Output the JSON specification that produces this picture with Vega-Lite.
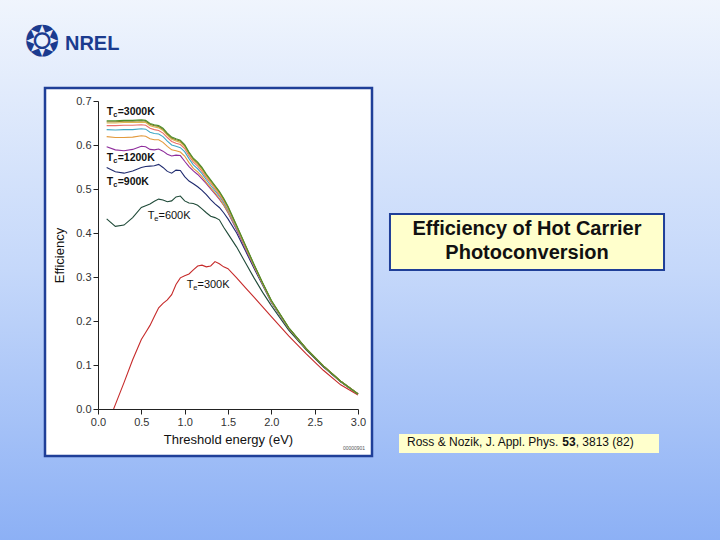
{
  "$schema": "https://vega.github.io/schema/vega-lite/v6.json",
  "width": 260,
  "height": 308,
  "autosize": {"type": "none"},
  "padding": {"left": 98, "top": 101, "right": 362, "bottom": 131},
  "background": "#c4d7fa",
  "config": {
    "font": "Liberation Sans",
    "view": {"stroke": null},
    "axis": {
      "domainColor": "#222",
      "tickColor": "#222",
      "labelColor": "#333",
      "labelFontSize": 11,
      "titleFontSize": 13,
      "titleFontWeight": "normal",
      "titleColor": "#111",
      "tickSize": 5,
      "labelPadding": 2,
      "grid": false,
      "labelFlush": false
    }
  },
  "data": {"values": [{}]},
  "layer": [
    {
      "mark": {
        "type": "rect",
        "fill": {
          "gradient": "linear", "x1": 0, "y1": 0, "x2": 0, "y2": 1,
          "stops": [
            {"offset": 0, "color": "#f0f5fd"},
            {"offset": 0.5, "color": "#c5d8fa"},
            {"offset": 1, "color": "#8cb0f5"}
          ]
        }
      },
      "encoding": {
        "x": {"datum": -1.16, "type": "quantitative", "scale": {"domain": [0, 3]}},
        "x2": {"datum": 7.2},
        "y": {"datum": 0.934, "type": "quantitative", "scale": {"domain": [0, 0.7]}},
        "y2": {"datum": -0.302}
      }
    },
    {
      "mark": {"type": "rect", "fill": "white", "stroke": "#1f3f98", "strokeWidth": 2.5},
      "encoding": {
        "x": {"datum": -0.6115, "type": "quantitative", "scale": {"domain": [0, 3]}},
        "x2": {"datum": 3.1615},
        "y": {"datum": 0.7295, "type": "quantitative", "scale": {"domain": [0, 0.7]}},
        "y2": {"datum": -0.1068}
      }
    },
    {
      "mark": {"type": "rect", "fill": "#ffffcc", "stroke": "#1f3f98", "strokeWidth": 2},
      "encoding": {
        "x": {"datum": 3.369, "type": "quantitative", "scale": {"domain": [0, 3]}},
        "x2": {"datum": 6.531},
        "y": {"datum": 0.4432, "type": "quantitative", "scale": {"domain": [0, 0.7]}},
        "y2": {"datum": 0.3159}
      }
    },
    {
      "mark": {"type": "rect", "fill": "#ffffcc"},
      "encoding": {
        "x": {"datum": 3.473, "type": "quantitative", "scale": {"domain": [0, 3]}},
        "x2": {"datum": 6.473},
        "y": {"datum": -0.0568, "type": "quantitative", "scale": {"domain": [0, 0.7]}},
        "y2": {"datum": -0.1}
      }
    },
    {
      "mark": {"type": "text", "text": "❂", "font": "DejaVu Sans", "fontSize": 42, "color": "#1b3b8f", "align": "center", "baseline": "middle"},
      "encoding": {
        "x": {"datum": -0.646, "type": "quantitative", "scale": {"domain": [0, 3]}},
        "y": {"datum": 0.832, "type": "quantitative", "scale": {"domain": [0, 0.7]}}
      }
    },
    {
      "mark": {"type": "text", "text": "NREL", "fontSize": 20, "fontWeight": "bold", "color": "#1b3b8f", "align": "left", "baseline": "middle"},
      "encoding": {
        "x": {"datum": -0.381, "type": "quantitative", "scale": {"domain": [0, 3]}},
        "y": {"datum": 0.8295, "type": "quantitative", "scale": {"domain": [0, 0.7]}}
      }
    },
    {
      "mark": {"type": "text", "text": "Efficiency of Hot Carrier", "fontSize": 20, "fontWeight": "bold", "color": "#111", "align": "center", "baseline": "middle"},
      "encoding": {
        "x": {"datum": 4.95, "type": "quantitative", "scale": {"domain": [0, 3]}},
        "y": {"datum": 0.409, "type": "quantitative", "scale": {"domain": [0, 0.7]}}
      }
    },
    {
      "mark": {"type": "text", "text": "Photoconversion", "fontSize": 20, "fontWeight": "bold", "color": "#111", "align": "center", "baseline": "middle"},
      "encoding": {
        "x": {"datum": 4.95, "type": "quantitative", "scale": {"domain": [0, 3]}},
        "y": {"datum": 0.3545, "type": "quantitative", "scale": {"domain": [0, 0.7]}}
      }
    },
    {
      "encoding": {
        "x": {"datum": 3.565, "type": "quantitative", "scale": {"domain": [0, 3]}},
        "y": {"datum": -0.075, "type": "quantitative", "scale": {"domain": [0, 0.7]}}
      },
      "layer": [
        {"mark": {"type": "text", "text": "Ross & Nozik, J. Appl. Phys.", "fontSize": 12, "color": "#111", "align": "left", "baseline": "middle"}},
        {"mark": {"type": "text", "text": "53", "fontSize": 12, "fontWeight": "bold", "color": "#111", "align": "left", "baseline": "middle", "dx": 155.4}},
        {"mark": {"type": "text", "text": ", 3813 (82)", "fontSize": 12, "color": "#111", "align": "left", "baseline": "middle", "dx": 168.7}}
      ]
    },
    {
      "mark": {"type": "text", "text": "00000901", "fontSize": 5, "color": "#555", "align": "center", "baseline": "middle"},
      "encoding": {
        "x": {"datum": 2.954, "type": "quantitative", "scale": {"domain": [0, 3]}},
        "y": {"datum": -0.0886, "type": "quantitative", "scale": {"domain": [0, 0.7]}}
      }
    },
    {
      "data": {
        "values": [
          {"T":"300K","E":0.18,"eff":0.0},{"T":"300K","E":0.2,"eff":0.01},{"T":"300K","E":0.3,"eff":0.06},{"T":"300K","E":0.4,"eff":0.112},{"T":"300K","E":0.5,"eff":0.158},{"T":"300K","E":0.55,"eff":0.174},{"T":"300K","E":0.6,"eff":0.19},{"T":"300K","E":0.65,"eff":0.21},{"T":"300K","E":0.7,"eff":0.23},{"T":"300K","E":0.75,"eff":0.24},{"T":"300K","E":0.8,"eff":0.248},{"T":"300K","E":0.85,"eff":0.26},{"T":"300K","E":0.9,"eff":0.283},{"T":"300K","E":0.95,"eff":0.298},{"T":"300K","E":1.0,"eff":0.303},{"T":"300K","E":1.05,"eff":0.307},{"T":"300K","E":1.1,"eff":0.316},{"T":"300K","E":1.15,"eff":0.325},{"T":"300K","E":1.2,"eff":0.327},{"T":"300K","E":1.25,"eff":0.323},{"T":"300K","E":1.3,"eff":0.325},{"T":"300K","E":1.35,"eff":0.335},{"T":"300K","E":1.4,"eff":0.33},{"T":"300K","E":1.45,"eff":0.323},{"T":"300K","E":1.5,"eff":0.319},{"T":"300K","E":1.6,"eff":0.298},{"T":"300K","E":1.7,"eff":0.276},{"T":"300K","E":1.8,"eff":0.254},{"T":"300K","E":1.9,"eff":0.232},{"T":"300K","E":2.0,"eff":0.21},{"T":"300K","E":2.2,"eff":0.166},{"T":"300K","E":2.4,"eff":0.126},{"T":"300K","E":2.6,"eff":0.088},{"T":"300K","E":2.8,"eff":0.055},{"T":"300K","E":3.0,"eff":0.032},
          {"T":"600K","E":0.1,"eff":0.432},{"T":"600K","E":0.2,"eff":0.415},{"T":"600K","E":0.3,"eff":0.418},{"T":"600K","E":0.4,"eff":0.435},{"T":"600K","E":0.5,"eff":0.458},{"T":"600K","E":0.55,"eff":0.462},{"T":"600K","E":0.6,"eff":0.466},{"T":"600K","E":0.65,"eff":0.472},{"T":"600K","E":0.7,"eff":0.477},{"T":"600K","E":0.75,"eff":0.475},{"T":"600K","E":0.8,"eff":0.471},{"T":"600K","E":0.85,"eff":0.473},{"T":"600K","E":0.9,"eff":0.482},{"T":"600K","E":0.95,"eff":0.484},{"T":"600K","E":1.0,"eff":0.473},{"T":"600K","E":1.05,"eff":0.468},{"T":"600K","E":1.1,"eff":0.467},{"T":"600K","E":1.15,"eff":0.463},{"T":"600K","E":1.2,"eff":0.455},{"T":"600K","E":1.25,"eff":0.446},{"T":"600K","E":1.3,"eff":0.438},{"T":"600K","E":1.35,"eff":0.435},{"T":"600K","E":1.4,"eff":0.43},{"T":"600K","E":1.45,"eff":0.413},{"T":"600K","E":1.5,"eff":0.398},{"T":"600K","E":1.6,"eff":0.368},{"T":"600K","E":1.7,"eff":0.333},{"T":"600K","E":1.8,"eff":0.298},{"T":"600K","E":1.9,"eff":0.265},{"T":"600K","E":2.0,"eff":0.235},{"T":"600K","E":2.2,"eff":0.179},{"T":"600K","E":2.4,"eff":0.135},{"T":"600K","E":2.6,"eff":0.096},{"T":"600K","E":2.8,"eff":0.062},{"T":"600K","E":3.0,"eff":0.034},
          {"T":"900K","E":0.1,"eff":0.549},{"T":"900K","E":0.2,"eff":0.539},{"T":"900K","E":0.3,"eff":0.536},{"T":"900K","E":0.4,"eff":0.541},{"T":"900K","E":0.5,"eff":0.549},{"T":"900K","E":0.55,"eff":0.551},{"T":"900K","E":0.6,"eff":0.552},{"T":"900K","E":0.65,"eff":0.553},{"T":"900K","E":0.7,"eff":0.556},{"T":"900K","E":0.75,"eff":0.549},{"T":"900K","E":0.8,"eff":0.54},{"T":"900K","E":0.85,"eff":0.536},{"T":"900K","E":0.9,"eff":0.543},{"T":"900K","E":0.95,"eff":0.542},{"T":"900K","E":1.0,"eff":0.528},{"T":"900K","E":1.05,"eff":0.518},{"T":"900K","E":1.1,"eff":0.512},{"T":"900K","E":1.15,"eff":0.505},{"T":"900K","E":1.2,"eff":0.497},{"T":"900K","E":1.25,"eff":0.487},{"T":"900K","E":1.3,"eff":0.476},{"T":"900K","E":1.35,"eff":0.466},{"T":"900K","E":1.4,"eff":0.458},{"T":"900K","E":1.45,"eff":0.446},{"T":"900K","E":1.5,"eff":0.432},{"T":"900K","E":1.6,"eff":0.4},{"T":"900K","E":1.7,"eff":0.36},{"T":"900K","E":1.8,"eff":0.32},{"T":"900K","E":1.9,"eff":0.281},{"T":"900K","E":2.0,"eff":0.242},{"T":"900K","E":2.2,"eff":0.183},{"T":"900K","E":2.4,"eff":0.137},{"T":"900K","E":2.6,"eff":0.097},{"T":"900K","E":2.8,"eff":0.062},{"T":"900K","E":3.0,"eff":0.034},
          {"T":"1200K","E":0.1,"eff":0.596},{"T":"1200K","E":0.2,"eff":0.589},{"T":"1200K","E":0.3,"eff":0.587},{"T":"1200K","E":0.4,"eff":0.59},{"T":"1200K","E":0.5,"eff":0.597},{"T":"1200K","E":0.55,"eff":0.596},{"T":"1200K","E":0.6,"eff":0.59},{"T":"1200K","E":0.65,"eff":0.589},{"T":"1200K","E":0.7,"eff":0.591},{"T":"1200K","E":0.75,"eff":0.586},{"T":"1200K","E":0.8,"eff":0.579},{"T":"1200K","E":0.85,"eff":0.575},{"T":"1200K","E":0.9,"eff":0.577},{"T":"1200K","E":0.95,"eff":0.576},{"T":"1200K","E":1.0,"eff":0.563},{"T":"1200K","E":1.05,"eff":0.551},{"T":"1200K","E":1.1,"eff":0.541},{"T":"1200K","E":1.15,"eff":0.533},{"T":"1200K","E":1.2,"eff":0.523},{"T":"1200K","E":1.25,"eff":0.512},{"T":"1200K","E":1.3,"eff":0.5},{"T":"1200K","E":1.35,"eff":0.489},{"T":"1200K","E":1.4,"eff":0.477},{"T":"1200K","E":1.45,"eff":0.463},{"T":"1200K","E":1.5,"eff":0.446},{"T":"1200K","E":1.6,"eff":0.407},{"T":"1200K","E":1.7,"eff":0.365},{"T":"1200K","E":1.8,"eff":0.323},{"T":"1200K","E":1.9,"eff":0.283},{"T":"1200K","E":2.0,"eff":0.243},{"T":"1200K","E":2.2,"eff":0.183},{"T":"1200K","E":2.4,"eff":0.137},{"T":"1200K","E":2.6,"eff":0.097},{"T":"1200K","E":2.8,"eff":0.063},{"T":"1200K","E":3.0,"eff":0.034},
          {"T":"1500K","E":0.1,"eff":0.619},{"T":"1500K","E":0.2,"eff":0.617},{"T":"1500K","E":0.3,"eff":0.617},{"T":"1500K","E":0.4,"eff":0.618},{"T":"1500K","E":0.5,"eff":0.621},{"T":"1500K","E":0.55,"eff":0.62},{"T":"1500K","E":0.6,"eff":0.614},{"T":"1500K","E":0.65,"eff":0.612},{"T":"1500K","E":0.7,"eff":0.612},{"T":"1500K","E":0.75,"eff":0.606},{"T":"1500K","E":0.8,"eff":0.597},{"T":"1500K","E":0.85,"eff":0.589},{"T":"1500K","E":0.9,"eff":0.587},{"T":"1500K","E":0.95,"eff":0.584},{"T":"1500K","E":1.0,"eff":0.575},{"T":"1500K","E":1.05,"eff":0.56},{"T":"1500K","E":1.1,"eff":0.547},{"T":"1500K","E":1.15,"eff":0.539},{"T":"1500K","E":1.2,"eff":0.528},{"T":"1500K","E":1.25,"eff":0.515},{"T":"1500K","E":1.3,"eff":0.503},{"T":"1500K","E":1.35,"eff":0.491},{"T":"1500K","E":1.4,"eff":0.479},{"T":"1500K","E":1.45,"eff":0.464},{"T":"1500K","E":1.5,"eff":0.448},{"T":"1500K","E":1.6,"eff":0.41},{"T":"1500K","E":1.7,"eff":0.367},{"T":"1500K","E":1.8,"eff":0.325},{"T":"1500K","E":1.9,"eff":0.284},{"T":"1500K","E":2.0,"eff":0.244},{"T":"1500K","E":2.2,"eff":0.184},{"T":"1500K","E":2.4,"eff":0.137},{"T":"1500K","E":2.6,"eff":0.098},{"T":"1500K","E":2.8,"eff":0.063},{"T":"1500K","E":3.0,"eff":0.034},
          {"T":"1800K","E":0.1,"eff":0.635},{"T":"1800K","E":0.2,"eff":0.634},{"T":"1800K","E":0.3,"eff":0.635},{"T":"1800K","E":0.4,"eff":0.635},{"T":"1800K","E":0.5,"eff":0.637},{"T":"1800K","E":0.55,"eff":0.636},{"T":"1800K","E":0.6,"eff":0.629},{"T":"1800K","E":0.65,"eff":0.626},{"T":"1800K","E":0.7,"eff":0.625},{"T":"1800K","E":0.75,"eff":0.619},{"T":"1800K","E":0.8,"eff":0.609},{"T":"1800K","E":0.85,"eff":0.6},{"T":"1800K","E":0.9,"eff":0.597},{"T":"1800K","E":0.95,"eff":0.594},{"T":"1800K","E":1.0,"eff":0.585},{"T":"1800K","E":1.05,"eff":0.569},{"T":"1800K","E":1.1,"eff":0.555},{"T":"1800K","E":1.15,"eff":0.546},{"T":"1800K","E":1.2,"eff":0.535},{"T":"1800K","E":1.25,"eff":0.521},{"T":"1800K","E":1.3,"eff":0.508},{"T":"1800K","E":1.35,"eff":0.496},{"T":"1800K","E":1.4,"eff":0.484},{"T":"1800K","E":1.45,"eff":0.469},{"T":"1800K","E":1.5,"eff":0.452},{"T":"1800K","E":1.6,"eff":0.412},{"T":"1800K","E":1.7,"eff":0.369},{"T":"1800K","E":1.8,"eff":0.326},{"T":"1800K","E":1.9,"eff":0.284},{"T":"1800K","E":2.0,"eff":0.244},{"T":"1800K","E":2.2,"eff":0.184},{"T":"1800K","E":2.4,"eff":0.137},{"T":"1800K","E":2.6,"eff":0.098},{"T":"1800K","E":2.8,"eff":0.063},{"T":"1800K","E":3.0,"eff":0.034},
          {"T":"2100K","E":0.1,"eff":0.644},{"T":"2100K","E":0.2,"eff":0.644},{"T":"2100K","E":0.3,"eff":0.645},{"T":"2100K","E":0.4,"eff":0.645},{"T":"2100K","E":0.5,"eff":0.646},{"T":"2100K","E":0.55,"eff":0.645},{"T":"2100K","E":0.6,"eff":0.638},{"T":"2100K","E":0.65,"eff":0.635},{"T":"2100K","E":0.7,"eff":0.633},{"T":"2100K","E":0.75,"eff":0.627},{"T":"2100K","E":0.8,"eff":0.617},{"T":"2100K","E":0.85,"eff":0.608},{"T":"2100K","E":0.9,"eff":0.604},{"T":"2100K","E":0.95,"eff":0.601},{"T":"2100K","E":1.0,"eff":0.592},{"T":"2100K","E":1.05,"eff":0.575},{"T":"2100K","E":1.1,"eff":0.561},{"T":"2100K","E":1.15,"eff":0.552},{"T":"2100K","E":1.2,"eff":0.54},{"T":"2100K","E":1.25,"eff":0.526},{"T":"2100K","E":1.3,"eff":0.513},{"T":"2100K","E":1.35,"eff":0.5},{"T":"2100K","E":1.4,"eff":0.487},{"T":"2100K","E":1.45,"eff":0.472},{"T":"2100K","E":1.5,"eff":0.455},{"T":"2100K","E":1.6,"eff":0.414},{"T":"2100K","E":1.7,"eff":0.37},{"T":"2100K","E":1.8,"eff":0.327},{"T":"2100K","E":1.9,"eff":0.285},{"T":"2100K","E":2.0,"eff":0.245},{"T":"2100K","E":2.2,"eff":0.184},{"T":"2100K","E":2.4,"eff":0.137},{"T":"2100K","E":2.6,"eff":0.098},{"T":"2100K","E":2.8,"eff":0.063},{"T":"2100K","E":3.0,"eff":0.034},
          {"T":"2400K","E":0.1,"eff":0.65},{"T":"2400K","E":0.2,"eff":0.65},{"T":"2400K","E":0.3,"eff":0.651},{"T":"2400K","E":0.4,"eff":0.651},{"T":"2400K","E":0.5,"eff":0.652},{"T":"2400K","E":0.55,"eff":0.651},{"T":"2400K","E":0.6,"eff":0.644},{"T":"2400K","E":0.65,"eff":0.641},{"T":"2400K","E":0.7,"eff":0.639},{"T":"2400K","E":0.75,"eff":0.633},{"T":"2400K","E":0.8,"eff":0.622},{"T":"2400K","E":0.85,"eff":0.613},{"T":"2400K","E":0.9,"eff":0.609},{"T":"2400K","E":0.95,"eff":0.606},{"T":"2400K","E":1.0,"eff":0.596},{"T":"2400K","E":1.05,"eff":0.579},{"T":"2400K","E":1.1,"eff":0.565},{"T":"2400K","E":1.15,"eff":0.556},{"T":"2400K","E":1.2,"eff":0.544},{"T":"2400K","E":1.25,"eff":0.529},{"T":"2400K","E":1.3,"eff":0.516},{"T":"2400K","E":1.35,"eff":0.503},{"T":"2400K","E":1.4,"eff":0.49},{"T":"2400K","E":1.45,"eff":0.475},{"T":"2400K","E":1.5,"eff":0.457},{"T":"2400K","E":1.6,"eff":0.415},{"T":"2400K","E":1.7,"eff":0.371},{"T":"2400K","E":1.8,"eff":0.327},{"T":"2400K","E":1.9,"eff":0.285},{"T":"2400K","E":2.0,"eff":0.245},{"T":"2400K","E":2.2,"eff":0.184},{"T":"2400K","E":2.4,"eff":0.138},{"T":"2400K","E":2.6,"eff":0.098},{"T":"2400K","E":2.8,"eff":0.063},{"T":"2400K","E":3.0,"eff":0.034},
          {"T":"2700K","E":0.1,"eff":0.653},{"T":"2700K","E":0.2,"eff":0.653},{"T":"2700K","E":0.3,"eff":0.654},{"T":"2700K","E":0.4,"eff":0.654},{"T":"2700K","E":0.5,"eff":0.655},{"T":"2700K","E":0.55,"eff":0.654},{"T":"2700K","E":0.6,"eff":0.647},{"T":"2700K","E":0.65,"eff":0.644},{"T":"2700K","E":0.7,"eff":0.642},{"T":"2700K","E":0.75,"eff":0.636},{"T":"2700K","E":0.8,"eff":0.625},{"T":"2700K","E":0.85,"eff":0.616},{"T":"2700K","E":0.9,"eff":0.612},{"T":"2700K","E":0.95,"eff":0.609},{"T":"2700K","E":1.0,"eff":0.599},{"T":"2700K","E":1.05,"eff":0.582},{"T":"2700K","E":1.1,"eff":0.568},{"T":"2700K","E":1.15,"eff":0.559},{"T":"2700K","E":1.2,"eff":0.547},{"T":"2700K","E":1.25,"eff":0.532},{"T":"2700K","E":1.3,"eff":0.519},{"T":"2700K","E":1.35,"eff":0.506},{"T":"2700K","E":1.4,"eff":0.493},{"T":"2700K","E":1.45,"eff":0.477},{"T":"2700K","E":1.5,"eff":0.459},{"T":"2700K","E":1.6,"eff":0.416},{"T":"2700K","E":1.7,"eff":0.372},{"T":"2700K","E":1.8,"eff":0.328},{"T":"2700K","E":1.9,"eff":0.286},{"T":"2700K","E":2.0,"eff":0.246},{"T":"2700K","E":2.2,"eff":0.185},{"T":"2700K","E":2.4,"eff":0.138},{"T":"2700K","E":2.6,"eff":0.098},{"T":"2700K","E":2.8,"eff":0.063},{"T":"2700K","E":3.0,"eff":0.034},
          {"T":"3000K","E":0.1,"eff":0.655},{"T":"3000K","E":0.2,"eff":0.655},{"T":"3000K","E":0.3,"eff":0.656},{"T":"3000K","E":0.4,"eff":0.656},{"T":"3000K","E":0.5,"eff":0.657},{"T":"3000K","E":0.55,"eff":0.656},{"T":"3000K","E":0.6,"eff":0.649},{"T":"3000K","E":0.65,"eff":0.646},{"T":"3000K","E":0.7,"eff":0.644},{"T":"3000K","E":0.75,"eff":0.638},{"T":"3000K","E":0.8,"eff":0.627},{"T":"3000K","E":0.85,"eff":0.618},{"T":"3000K","E":0.9,"eff":0.614},{"T":"3000K","E":0.95,"eff":0.611},{"T":"3000K","E":1.0,"eff":0.601},{"T":"3000K","E":1.05,"eff":0.584},{"T":"3000K","E":1.1,"eff":0.57},{"T":"3000K","E":1.15,"eff":0.561},{"T":"3000K","E":1.2,"eff":0.549},{"T":"3000K","E":1.25,"eff":0.534},{"T":"3000K","E":1.3,"eff":0.521},{"T":"3000K","E":1.35,"eff":0.508},{"T":"3000K","E":1.4,"eff":0.495},{"T":"3000K","E":1.45,"eff":0.479},{"T":"3000K","E":1.5,"eff":0.461},{"T":"3000K","E":1.6,"eff":0.417},{"T":"3000K","E":1.7,"eff":0.373},{"T":"3000K","E":1.8,"eff":0.329},{"T":"3000K","E":1.9,"eff":0.287},{"T":"3000K","E":2.0,"eff":0.247},{"T":"3000K","E":2.2,"eff":0.185},{"T":"3000K","E":2.4,"eff":0.138},{"T":"3000K","E":2.6,"eff":0.098},{"T":"3000K","E":2.8,"eff":0.063},{"T":"3000K","E":3.0,"eff":0.034}
        ]
      },
      "mark": {"type": "line", "strokeWidth": 1.1},
      "encoding": {
        "x": {
          "field": "E",
          "type": "quantitative",
          "scale": {"domain": [0, 3]},
          "axis": {"title": "Threshold energy (eV)", "values": [0, 0.5, 1, 1.5, 2, 2.5, 3], "format": ".1f", "titlePadding": 6, "zindex": 1}
        },
        "y": {
          "field": "eff",
          "type": "quantitative",
          "scale": {"domain": [0, 0.7]},
          "axis": {"title": "Efficiency", "values": [0, 0.1, 0.2, 0.3, 0.4, 0.5, 0.6, 0.7], "format": ".1f", "titlePadding": 9, "zindex": 1}
        },
        "color": {
          "field": "T",
          "type": "nominal",
          "scale": {
            "domain": ["300K", "600K", "900K", "1200K", "1500K", "1800K", "2100K", "2400K", "2700K", "3000K"],
            "range": ["#c62a2a", "#1f4a38", "#1e2a6e", "#8e2d9c", "#e39a3c", "#3ea7c6", "#ec6f6a", "#dcb64e", "#8a7f26", "#4f8f2c"]
          },
          "legend": null
        }
      }
    },
    {
      "data": {
        "values": [
          {"E": 0.1, "eff": 0.675, "label": "=3000K"},
          {"E": 0.1, "eff": 0.57, "label": "=1200K"},
          {"E": 0.1, "eff": 0.515, "label": "=900K"}
        ]
      },
      "encoding": {
        "x": {"field": "E", "type": "quantitative", "scale": {"domain": [0, 3]}},
        "y": {"field": "eff", "type": "quantitative", "scale": {"domain": [0, 0.7]}}
      },
      "layer": [
        {"mark": {"type": "text", "text": "T", "align": "left", "baseline": "middle", "fontSize": 10.5, "fontWeight": "bold", "color": "#111"}},
        {"mark": {"type": "text", "text": "c", "align": "left", "baseline": "middle", "fontSize": 7.5, "fontWeight": "bold", "color": "#111", "dx": 6.6, "dy": 3}},
        {"mark": {"type": "text", "align": "left", "baseline": "middle", "fontSize": 10.5, "fontWeight": "bold", "color": "#111", "dx": 11}, "encoding": {"text": {"field": "label", "type": "nominal"}}}
      ]
    },
    {
      "data": {
        "values": [
          {"E": 0.573, "eff": 0.438, "label": "=600K"},
          {"E": 1.023, "eff": 0.281, "label": "=300K"}
        ]
      },
      "encoding": {
        "x": {"field": "E", "type": "quantitative", "scale": {"domain": [0, 3]}},
        "y": {"field": "eff", "type": "quantitative", "scale": {"domain": [0, 0.7]}}
      },
      "layer": [
        {"mark": {"type": "text", "text": "T", "align": "left", "baseline": "middle", "fontSize": 11, "color": "#111"}},
        {"mark": {"type": "text", "text": "e", "align": "left", "baseline": "middle", "fontSize": 7.5, "color": "#111", "dx": 6.7, "dy": 3}},
        {"mark": {"type": "text", "align": "left", "baseline": "middle", "fontSize": 11, "color": "#111", "dx": 10.8}, "encoding": {"text": {"field": "label", "type": "nominal"}}}
      ]
    }
  ]
}
